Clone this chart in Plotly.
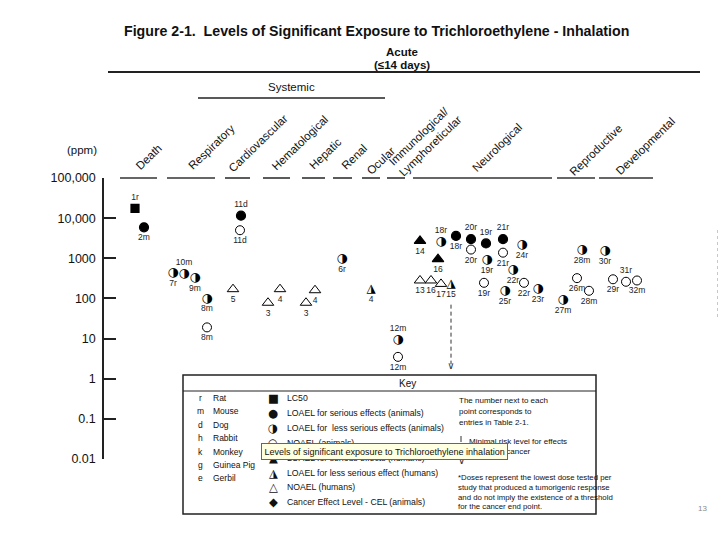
import plotly.graph_objects as go

# ---------------- data (x = position along the category strip, y = ppm) -------------
categories = ["Death", "Respiratory", "Cardiovascular", "Hematological", "Hepatic", "Renal",
              "Ocular", "Immunological/<br>Lymphoreticular", "Neurological", "Reproductive",
              "Developmental"]

y_tickvals = [0.01, 0.1, 1, 10, 100, 1000, 10000, 100000]
y_ticktext = ["0.01", "0.1", "1", "10", "100", "1000", "10,000", "100,000"]

# LC50
lc50_x = [3.1]
lc50_y = [17500]
lc50_lab = ["1r"]
lc50_pos = ["top center"]

# LOAEL for serious effects (animals)
ser_x = [4.0, 13.7, 35.2, 36.7, 38.2, 39.9]
ser_y = [5900, 11500, 3600, 3000, 2350, 3000]
ser_lab = ["2m", "11d", "18r", "20r", "19r", "21r"]
ser_pos = ["bottom center", "top center", "bottom center", "top center", "top center", "top center"]

# LOAEL for less serious effects (animals)
less_x = [6.9, 8.0, 9.1, 10.3, 23.8, 29.4, 33.7, 38.3, 40.1, 40.9, 41.8, 43.4, 45.9, 47.8, 50.1]
less_y = [430, 410, 320, 100, 950, 9.2, 2600, 920, 155, 510, 2100, 170, 90, 1600, 1550]
less_lab = ["7r", "10m", "9m", "8m", "6r", "12m", "18r", "19r", "25r", "22r", "24r", "23r",
            "27m", "28m", "30r"]
less_pos = ["bottom center", "top center", "bottom center", "bottom center", "bottom center",
            "top center", "top center", "bottom center", "bottom center", "bottom center",
            "bottom center", "bottom center", "bottom center", "bottom center", "bottom center"]

# NOAEL (animals)
noa_x = [10.3, 13.6, 29.4, 36.7, 38.0, 39.9, 42.0, 47.3, 48.5, 50.9, 52.2, 53.3]
noa_y = [19, 5000, 3.5, 1650, 245, 1380, 245, 320, 155, 300, 260, 280]
noa_lab = ["8m", "11d", "12m", "20r", "19r", "21r", "22r", "26m", "28m", "29r", "31r", "32m"]
noa_pos = ["bottom center"] * 10 + ["top center", "bottom center"]

# LOAEL for serious effects (humans)
serh_x = [31.6, 33.4]
serh_y = [2700, 950]
serh_lab = ["14", "16"]

# LOAEL for less serious effect (humans)
lessh_x = [26.7, 34.7]
lessh_y = [170, 230]
lessh_lab = ["4", "15"]

# NOAEL (humans)
noah_x = [12.9, 16.4, 17.6, 20.2, 21.1, 31.6, 32.7, 33.7]
noah_y = [170, 78, 170, 78, 160, 280, 280, 230]
noah_lab = ["5", "3", "4", "3", "4", "13", "16", "17"]

# Minimal risk level (acute inhalation)
mrl_x = 34.7
mrl_from = 70
mrl_y = 2

# ---------------- layout helpers -------------
W, H = 720, 540
L, R, T, B = 104, 16, 178, 81
PW, PH = W - L - R, H - T - B

SANS = "Liberation Sans, Arial, sans-serif"
NARROW = "Liberation Sans Narrow, Arial Narrow, Liberation Sans, sans-serif"
GLYPH = "DejaVu Sans"
INK = "#111111"


def pxx(x):
    return (x - L) / PW


def pxy(y):
    return (H - B - y) / PH


annotations = []
shapes = []


def ann(text, x, y, size=8, family=SANS, xanchor="center", angle=0, color=INK, **kw):
    annotations.append(dict(text=text, x=pxx(x), y=pxy(y), xref="paper", yref="paper",
                            xanchor=xanchor, yanchor="middle", showarrow=False,
                            textangle=angle, font=dict(size=size, family=family, color=color),
                            **kw))


def hline(x0, x1, y, width=1.5, color="#222222", dash="solid"):
    shapes.append(dict(type="line", xref="paper", yref="paper", x0=pxx(x0), x1=pxx(x1),
                       y0=pxy(y), y1=pxy(y), line=dict(color=color, width=width, dash=dash)))


fig = go.Figure()

MK = dict(color="black", line=dict(color="black", width=1.2))


def labels(x, y, lab, pos):
    fig.add_trace(go.Scatter(x=x, y=y, mode="markers+text", text=lab, textposition=pos,
                             marker=dict(size=9, opacity=0), hoverinfo="skip",
                             textfont=dict(size=8.5, family=SANS, color="#222222")))


# MRL dashed line with arrowhead
fig.add_trace(go.Scatter(x=[mrl_x, mrl_x], y=[mrl_from, mrl_y * 1.15], mode="lines",
                         line=dict(color="#333333", width=1, dash="4px,3px"), hoverinfo="skip"))
fig.add_trace(go.Scatter(x=[mrl_x], y=[mrl_y], mode="text", text=["∨"], hoverinfo="skip",
                         textfont=dict(size=10, family=GLYPH, color="#333333")))

fig.add_trace(go.Scatter(x=lc50_x, y=lc50_y, mode="markers",
                         marker=dict(symbol="square", size=8, **MK)))
fig.add_trace(go.Scatter(x=ser_x, y=ser_y, mode="markers",
                         marker=dict(symbol="circle", size=9, **MK)))
fig.add_trace(go.Scatter(x=noa_x, y=noa_y, mode="markers",
                         marker=dict(symbol="circle", size=9, color="white",
                                     line=dict(color="black", width=1))))
fig.add_trace(go.Scatter(x=less_x, y=less_y, mode="text", text=["◑"] * len(less_x),
                         textfont=dict(size=12.5, family=GLYPH, color="black")))
fig.add_trace(go.Scatter(x=serh_x, y=serh_y, mode="markers",
                         marker=dict(symbol="triangle-up", size=10, **MK)))
fig.add_trace(go.Scatter(x=lessh_x, y=lessh_y, mode="text", text=["◮"] * len(lessh_x),
                         textfont=dict(size=12, family=GLYPH, color="black")))
fig.add_trace(go.Scatter(x=noah_x, y=noah_y, mode="markers",
                         marker=dict(symbol="triangle-up", size=10, color="white",
                                     line=dict(color="black", width=1))))

labels(lc50_x, lc50_y, lc50_lab, lc50_pos)
labels(ser_x, ser_y, ser_lab, ser_pos)
labels(less_x, less_y, less_lab, less_pos)
labels(noa_x, noa_y, noa_lab, noa_pos)
labels(serh_x, serh_y, serh_lab, ["bottom center"] * len(serh_x))
labels(lessh_x, lessh_y, lessh_lab, ["bottom center"] * len(lessh_x))
labels(noah_x, noah_y, noah_lab, ["bottom center"] * len(noah_x))

# ---------------- header -------------
ann("<b>Figure 2-1.  Levels of Significant Exposure to Trichloroethylene - Inhalation</b>",
    376, 31, size=14.2, family=NARROW)
ann("<b>Acute</b>", 402, 52, size=11.5)
ann("<b>(≤14 days)</b>", 402, 65, size=11.5)
hline(108, 700, 72, width=2)
ann("Systemic", 291, 87, size=11.5)
hline(198, 385, 98, width=1.5)
ann("(ppm)", 82, 150, size=11.5)

cat_centers = [(148.5, 156.5), (211.5, 147), (258.5, 143.5), (300, 143.5), (325, 154),
               (354, 156.5), (380.5, 161), (425, 140), (496.5, 147.5), (596, 150),
               (645.5, 146)]
cat_dashes = [(120, 157), (167, 215), (225, 250), (263, 290), (302, 325), (333, 352),
              (362, 380), (387, 405), (413, 552), (557, 595), (599, 653)]
for name, (cx, cy), (d0, d1) in zip(categories, cat_centers, cat_dashes):
    ann(name, cx, cy, size=11.5, angle=-44, align="left")
    hline(d0, d1, 178, width=1.6, color="#333333")

# ---------------- key -------------
shapes.append(dict(type="rect", xref="paper", yref="paper", x0=pxx(183), x1=pxx(596),
                   y0=pxy(514), y1=pxy(375), line=dict(color="#222222", width=1.5),
                   fillcolor="white", layer="above"))
hline(183, 596, 391, width=1)
ann("Key", 407, 383, size=10)

animals = [("r", "Rat"), ("m", "Mouse"), ("d", "Dog"), ("h", "Rabbit"), ("k", "Monkey"),
           ("g", "Guinea Pig"), ("e", "Gerbil")]
for i, (code, name) in enumerate(animals):
    yy = 398 + 13.4 * i
    ann(code, 200, yy, size=8.5)
    ann(name, 211, yy, size=8.5, xanchor="left")

key_items = [("■", "LC50"), ("●", "LOAEL for serious effects (animals)"),
             ("◑", "LOAEL for  less serious effects (animals)"), ("○", "NOAEL (animals)"),
             ("▲", "LOAEL for serious effects (humans)"),
             ("◮", "LOAEL for less serious effect (humans)"), ("△", "NOAEL (humans)"),
             ("◆", "Cancer Effect Level - CEL (animals)")]
for i, (sym, text) in enumerate(key_items):
    yy = 398 + 14.9 * i
    ann(sym, 273, yy, size=11.5, family=GLYPH)
    ann(text, 285, yy, size=8.7, xanchor="left")

notes = ["The number next to each", "point corresponds to", "entries in Table 2-1."]
for i, t in enumerate(notes):
    ann(t, 457, 400 + 11 * i, size=8, xanchor="left")
shapes.append(dict(type="line", xref="paper", yref="paper", x0=pxx(461), x1=pxx(461),
                   y0=pxy(442), y1=pxy(436), line=dict(color="#333333", width=1)))
ann("Minimal risk level for effects", 467, 441, size=8, xanchor="left")
ann("other than cancer", 466, 451, size=8, xanchor="left")
ann("∨", 461, 460, size=10, family=GLYPH, color="#333333")
doses = ["*Doses represent the lowest dose tested per",
         "study that produced a tumorigenic response",
         "and do not imply the existence of a threshold",
         "for the cancer end point."]
for i, t in enumerate(doses):
    ann(t, 456, 477 + 10 * i, size=7.8, xanchor="left")

# tooltip
ann("Levels of significant exposure to Trichloroethylene inhalation", 384.5, 451.5, size=9,
    family=NARROW, bgcolor="#FFFFE1", bordercolor="#666666", borderwidth=1, borderpad=2.5)

# page number / faint margin mark
ann("13", 702, 508, size=8, color="#8a8a8a")
shapes.append(dict(type="line", xref="paper", yref="paper", x0=pxx(717.5), x1=pxx(717.5),
                   y0=pxy(317), y1=pxy(230), line=dict(color="#c8c8c8", width=1, dash="3px,3px")))

fig.update_layout(
    width=W, height=H, margin=dict(l=L, r=R, t=T, b=B),
    paper_bgcolor="white", plot_bgcolor="white", showlegend=False,
    annotations=annotations, shapes=shapes,
    xaxis=dict(range=[0, 60], visible=False, fixedrange=True),
    yaxis=dict(type="log", range=[-2, 5], tickvals=y_tickvals, ticktext=y_ticktext,
               ticks="inside", ticklen=12, tickwidth=2, tickcolor="#222222",
               showline=True, linecolor="#222222", linewidth=1.5, showgrid=False,
               zeroline=False, ticklabelstandoff=4, fixedrange=True,
               tickfont=dict(size=12.5, family=SANS, color=INK)),
)

fig.write_html("out.html", config={"displayModeBar": False},
               post_script="document.body.style.margin='0';document.body.style.overflow='hidden';")
